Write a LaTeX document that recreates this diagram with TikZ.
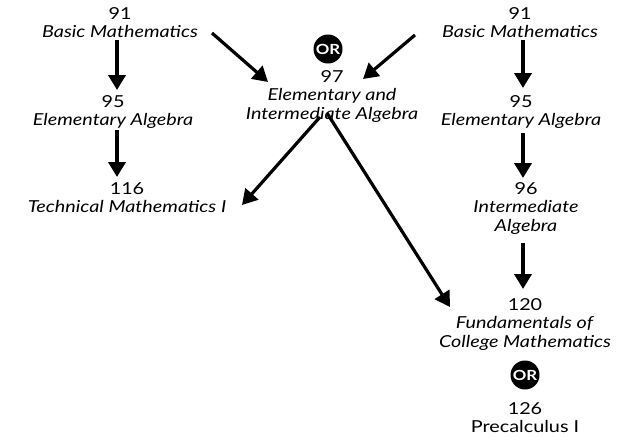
\documentclass[tikz,border=0pt]{standalone}
\usepackage{fontspec}
\setmainfont{Lato}[FakeStretch=1.2]
\usetikzlibrary{arrows.meta,calc}
\begin{document}
\begin{tikzpicture}[x=1pt,y=-1pt,
  lbl/.style={align=center,inner sep=0pt,anchor=north,font=\fontsize{16.5}{18.5}\selectfont},
  arr/.style={line width=3.2pt,-{Triangle[length=15pt,width=17pt]}},
  varr/.style={arr,line width=3.8pt},
  orc/.style={circle,fill=black,text=white,minimum size=29pt,inner sep=0pt,font=\bfseries\fontsize{14}{14}\selectfont}]
\useasboundingbox (0,0) rectangle (618,440);
% left column
\node[lbl] (l91) at (120,7) {91\\\textit{Basic Mathematics}};
\node[lbl] (l95) at (113,95) {95\\\textit{Elementary Algebra}};
\node[lbl] (l116) at (127,182) {116\\\textit{Technical Mathematics I}};
% middle
\node[orc] (or1) at (328,49) {OR};
\node[lbl] (m97) at (332,70) {97\\\textit{Elementary and}\\\textit{Intermediate Algebra}};
% right column
\node[lbl] (r91) at (520,7) {91\\\textit{Basic Mathematics}};
\node[lbl] (r95) at (521,95) {95\\\textit{Elementary Algebra}};
\node[lbl] (r96) at (526,182) {96\\\textit{Intermediate}\\\textit{Algebra}};
\node[lbl] (r120) at (525,298) {120\\\textit{Fundamentals of}\\\textit{College Mathematics}};
\node[orc] (or2) at (525,375) {OR};
\node[lbl] (r126) at (525,402) {126\\Precalculus I};
% vertical arrows
\draw[varr] ($(l91.north)+(-3,33)$) -- ($(l95.north)+(4,-5)$);
\draw[varr] ($(l95.north)+(4,35)$) -- ($(l116.north)+(-10,-5)$);
\draw[varr] ($(r91.north)+(3,33)$) -- ($(r95.north)+(2,-7)$);
\draw[varr] ($(r95.north)+(2,38)$) -- ($(r96.north)+(-3,-4)$);
\draw[varr] ($(r96.north)+(-3,61)$) -- ($(r120.north)+(-2,-9)$);
% diagonal arrows
\draw[arr] ($(l91.north)+(92,26)$) -- ($(m97.north)+(-64,12)$);
\draw[arr] ($(r91.north)+(-105,28)$) -- ($(m97.north)+(31,9)$);
\draw[arr] ($(m97.north)+(-12,47)$) -- ($(l116.north)+(115,23)$);
\draw[arr] ($(m97.north)+(-5,43)$) -- ($(r120.north)+(-75,9)$);
\end{tikzpicture}
\end{document}
